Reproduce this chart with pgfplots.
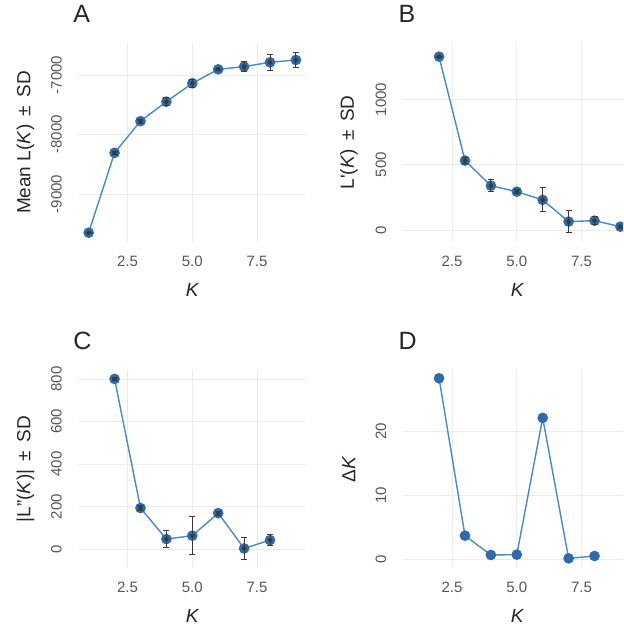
\documentclass[border=0pt]{standalone}
\usepackage{fontspec}
\setmainfont{Liberation Sans}
\usepackage{pgfplots}
\pgfplotsset{compat=1.18}
\definecolor{ptcol}{HTML}{2E6BA8}
\definecolor{lncol}{HTML}{4B88C4}
\definecolor{tickcol}{HTML}{555555}
\definecolor{gridcol}{HTML}{EBEBEB}
\definecolor{errcol}{HTML}{3A3A3A}
\pgfplotsset{
  panel/.style={
    scale only axis,
    xmin=0.6,
    axis line style={draw=none},
    major tick length=0pt,
    grid=major,
    grid style={gridcol, line width=0.8pt},
    xtick={2.5,5,7.5}, xticklabels={2.5,5.0,7.5},
    tick label style={font=\fontsize{15}{15}\selectfont, text=tickcol},
    yticklabel style={rotate=90, anchor=south},
    xticklabel shift=10.8pt, yticklabel shift=13pt,
    xlabel={\itshape K},
    label style={font=\fontsize{19}{19}\selectfont, text=black!85},
    title style={font=\fontsize{25}{25}\selectfont, anchor=west, inner sep=0pt, text=black!85},
    clip marker paths=true,
  },
  col1/.style={width=228pt, xmax=9.4,
    xlabel style={at={(axis description cs:0.5,-0.242)}, anchor=center},
    ylabel style={at={(axis description cs:-0.232,0.5)}, anchor=center},
    title style={at={(axis description cs:-0.022,1.115)}}},
  col2/.style={width=220.2pt, xmax=9.1,
    xlabel style={at={(axis description cs:0.519,-0.242)}, anchor=center},
    ylabel style={at={(axis description cs:-0.245,0.5)}, anchor=center},
    title style={at={(axis description cs:-0.02,1.115)}}},
  mainline/.style={lncol, line width=1.4pt, mark=*, mark size=4.6pt, mark options={ptcol, fill=ptcol}},
  errs/.style={only marks, mark=none, errcol, forget plot,
    error bars/.cd, y dir=both, y explicit,
    error bar style={errcol, line width=0.9pt},
    error mark options={rotate=90, errcol, mark size=3pt, line width=0.9pt}},
}
\begin{document}
\begin{tikzpicture}
\useasboundingbox (0,0) rectangle (623pt,628pt);
% Panel A
\begin{axis}[panel, col1, at={(78.3pt,386.3pt)}, anchor=south west, height=198.5pt,
  ymin=-9802, ymax=-6466,
  ytick={-9000,-8000,-7000}, yticklabels={-9000,-8000,-7000},
  ylabel={Mean L(\textit{K}) \,±\, SD}, title={A}]
\addplot[mainline] coordinates {(1,-9650) (2,-8308) (3,-7776) (4,-7449) (5,-7140) (6,-6905) (7,-6860) (8,-6787) (9,-6748)};
\addplot[errs] coordinates {(1,-9650) +- (0,10) (2,-8308) +- (0,25) (3,-7776) +- (0,35) (4,-7449) +- (0,65) (5,-7140) +- (0,70) (6,-6905) +- (0,20) (7,-6860) +- (0,85) (8,-6787) +- (0,140) (9,-6748) +- (0,130)};
\end{axis}
% Panel B
\begin{axis}[panel, col2, at={(402.8pt,386.3pt)}, anchor=south west, height=198.5pt,
  ymin=-90, ymax=1430,
  ytick={0,500,1000}, yticklabels={0,500,1000},
  ylabel={L\textquotesingle(\textit{K}) \,±\, SD}, title={B}]
\addplot[mainline] coordinates {(2,1327) (3,531) (4,339) (5,293) (6,230) (7,64) (8,71) (9,25)};
\addplot[errs] coordinates {(2,1327) +- (0,5) (3,531) +- (0,25) (4,339) +- (0,45) (5,293) +- (0,15) (6,230) +- (0,92) (7,64) +- (0,87) (8,71) +- (0,30) (9,25) +- (0,10)};
\end{axis}
% Panel C
\begin{axis}[panel, col1, at={(78.3pt,60pt)}, anchor=south west, height=198pt,
  ymin=-89, ymax=842,
  ytick={0,200,400,600,800}, yticklabels={0,200,400,600,800},
  ylabel={|L"(\textit{K})| \,±\, SD}, title={C}]
\addplot[mainline] coordinates {(2,800) (3,193) (4,47) (5,63) (6,169) (7,3) (8,42)};
\addplot[errs] coordinates {(2,800) +- (0,5) (3,193) +- (0,10) (4,47) +- (0,39) (5,63) +- (0,89) (6,169) +- (0,10) (7,3) +- (0,52) (8,42) +- (0,27)};
\end{axis}
% Panel D
\begin{axis}[panel, col2, at={(402.8pt,60pt)}, anchor=south west, height=198pt,
  ymin=-1.41, ymax=29.6,
  ytick={0,10,20}, yticklabels={0,10,20},
  ylabel={Δ\textit{K}}, title={D}]
\addplot[mainline] coordinates {(2,28.3) (3,3.65) (4,0.63) (5,0.68) (6,22.1) (7,0.1) (8,0.47)};
\end{axis}
\end{tikzpicture}
\end{document}
